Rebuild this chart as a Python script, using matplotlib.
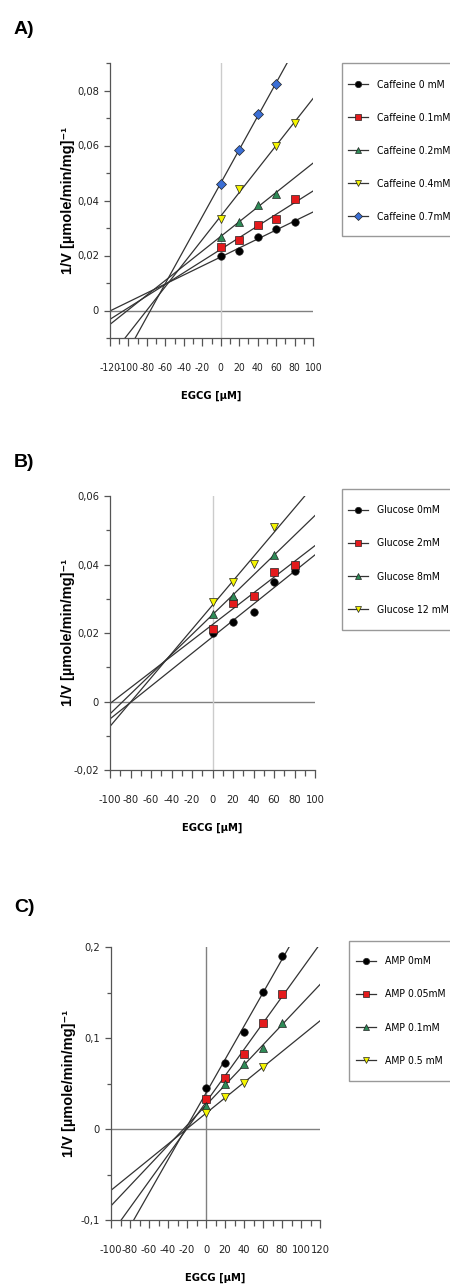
import numpy as np
import matplotlib
matplotlib.use('Agg')
import matplotlib.pyplot as plt
from matplotlib import font_manager as fm
from matplotlib.lines import Line2D
from matplotlib.patches import Rectangle
from matplotlib.ticker import MultipleLocator, FuncFormatter

# Panel A: caffeine
caf_labels = ['Caffeine 0 mM', 'Caffeine 0.1mM', 'Caffeine 0.2mM', 'Caffeine 0.4mM', 'Caffeine 0.7mM']
caf_x = [[0, 20, 40, 60, 80],
         [0, 20, 40, 60, 80],
         [0, 20, 40, 60],
         [0, 20, 60, 80],
         [0, 20, 40, 60]]
caf_y = [[0.0197, 0.0218, 0.0267, 0.0297, 0.0321],
         [0.0231, 0.0256, 0.0312, 0.0332, 0.0405],
         [0.0266, 0.0323, 0.0385, 0.0423],
         [0.0334, 0.0441, 0.0600, 0.0682],
         [0.0461, 0.0584, 0.0713, 0.0823]]

# Panel B: glucose
glu_labels = ['Glucose 0mM', 'Glucose 2mM', 'Glucose 8mM', 'Glucose 12 mM']
glu_x = [[0, 20, 40, 60, 80],
         [0, 20, 40, 60, 80],
         [0, 20, 60],
         [0, 20, 40, 60]]
glu_y = [[0.0200, 0.0231, 0.0261, 0.0350, 0.0380],
         [0.0212, 0.0289, 0.0307, 0.0378, 0.0398],
         [0.0255, 0.0309, 0.0428],
         [0.0290, 0.0350, 0.0401, 0.0509]]

# Panel C: AMP
amp_labels = ['AMP 0mM', 'AMP 0.05mM', 'AMP 0.1mM', 'AMP 0.5 mM']
amp_x = [[0, 20, 40, 60, 80],
         [0, 20, 40, 60, 80],
         [0, 20, 40, 60, 80],
         [0, 20, 40, 60]]
amp_y = [[0.0454, 0.0722, 0.1070, 0.1505, 0.1897],
         [0.0333, 0.0564, 0.0828, 0.1161, 0.1484],
         [0.0253, 0.0495, 0.0718, 0.0890, 0.1161],
         [0.0172, 0.0348, 0.0502, 0.0685]]

styles = [('o', 'black'), ('s', '#e41a1c'), ('^', '#2e8b57'), ('v', '#f5f500'), ('D', '#3b6fd6')]

# pick a narrow font if one is installed, otherwise a small Arial-like one
installed = fm.fontManager.ttflist
names = {f.name for f in installed}
dv_cond = any(f.name == 'DejaVu Sans' and 'condensed' in str(f.stretch) for f in installed)
if 'Liberation Sans Narrow' in names:
    narrow = dict(family=['Liberation Sans Narrow', 'DejaVu Sans'], stretch='normal')
    tick_size, leg_size, xtick_a = 9.5, 9.5, 9.5
elif dv_cond:
    narrow = dict(family=['DejaVu Sans'], stretch='condensed')
    tick_size, leg_size, xtick_a = 8, 7.5, 7.5
else:
    narrow = dict(family=['Liberation Sans', 'DejaVu Sans'], stretch='normal')
    tick_size, leg_size, xtick_a = 7, 6.5, 6.6
bold_font = ['Liberation Sans', 'DejaVu Sans']

W, H = 450, 1287
fig = plt.figure(figsize=(W / 100, H / 100), dpi=100)


def fmt(v, pos):
    if abs(v) < 1e-12:
        return '0'
    return f'{v:g}'.replace('.', ',')


def panel(box, letter, letter_y, xs, ys, labels, xlim, ylim, ymajor, yminor, vcol, frame,
          leg_x, leg_y0, xsize):
    l, t, r, b = box
    ax = fig.add_axes([l / W, 1 - b / H, (r - l) / W, (b - t) / H])
    ax.set_xlim(xlim)
    ax.set_ylim(ylim)
    ax.axhline(0, color='#808080', lw=1.0, zorder=1)
    ax.axvline(0, color=vcol, lw=1.0, zorder=1)
    handles = []
    xx = np.array(xlim, dtype=float)
    for i, (x, y) in enumerate(zip(xs, ys)):
        m, c = styles[i]
        k, d = np.polyfit(x, y, 1)
        ax.plot(xx, k * xx + d, color='#333333', lw=0.9, zorder=2)
        ax.plot(x, y, linestyle='none', marker=m, markersize=5.4 if m != 'D' else 4.8,
                markerfacecolor=c, markeredgecolor='#222222', markeredgewidth=0.5, zorder=3)
        handles.append(Line2D([], [], color='#333333', lw=0.9, marker=m,
                              markersize=4.6 if m != 'D' else 4, markerfacecolor=c,
                              markeredgecolor='#222222', markeredgewidth=0.5))
    for s in ['top', 'right']:
        ax.spines[s].set_visible(False)
    for s in ['left', 'bottom']:
        ax.spines[s].set_color('#555555')
        ax.spines[s].set_linewidth(0.9)
    ax.xaxis.set_major_locator(MultipleLocator(20))
    ax.xaxis.set_minor_locator(MultipleLocator(10))
    ax.yaxis.set_major_locator(MultipleLocator(ymajor))
    ax.yaxis.set_minor_locator(MultipleLocator(yminor))
    ax.xaxis.set_major_formatter(FuncFormatter(fmt))
    ax.yaxis.set_major_formatter(FuncFormatter(fmt))
    ax.tick_params(axis='x', which='major', length=6, width=0.9, color='#555555', pad=12)
    ax.tick_params(axis='x', which='minor', length=4, width=0.9, color='#555555')
    ax.tick_params(axis='y', which='major', length=4.5, width=0.9, color='#555555', pad=3.5)
    ax.tick_params(axis='y', which='minor', length=3, width=0.9, color='#555555')
    for lab in ax.get_xticklabels() + ax.get_yticklabels():
        lab.set_fontfamily(narrow['family'])
        lab.set_fontstretch(narrow['stretch'])
        lab.set_fontsize(tick_size)
        lab.set_color('#222222')
    for lab in ax.get_xticklabels():
        lab.set_fontsize(xsize)
    ax.set_xlabel('EGCG [µM]', fontfamily=narrow['family'], fontstretch=narrow['stretch'],
                  fontweight='bold', fontsize=tick_size)
    ax.set_ylabel('1/V [µmole/min/mg]⁻¹', fontfamily=bold_font, fontweight='bold', fontsize=10.5)
    ax.xaxis.set_label_coords(0.5, -(53 / (b - t)))
    ax.yaxis.set_label_coords(-(35 / (r - l)), 0.5)
    fig.text(14 / W, 1 - letter_y / H, letter, fontfamily=bold_font, fontweight='bold',
             fontsize=14, va='center', ha='left')
    # legend frame, drawn by hand so the padding can match
    fx0, fy0, fx1, fy1 = frame
    fig.patches.append(Rectangle((fx0 / W, 1 - fy1 / H), (fx1 - fx0) / W, (fy1 - fy0) / H,
                                 transform=fig.transFigure, fill=True, facecolor='white',
                                 edgecolor='#999999', lw=1.0, zorder=0))
    fig.legend(handles, labels, loc='center left',
               bbox_to_anchor=(leg_x / W, 1 - leg_y0 / H),
               bbox_transform=fig.transFigure, borderaxespad=0, borderpad=0,
               prop={'family': narrow['family'], 'stretch': narrow['stretch'], 'size': leg_size},
               frameon=False, handlelength=14.4 / leg_size, handletextpad=6.2 / leg_size,
               labelspacing=16.6 / leg_size, handleheight=0.7)
    return ax


panel((110, 63, 313, 338), 'A)', 30, caf_x, caf_y, caf_labels, (-120, 100), (-0.01, 0.09),
      0.02, 0.01, '#cccccc', (342, 63, 455, 236), 348, 151, xtick_a)
panel((110, 496, 315, 770), 'B)', 462, glu_x, glu_y, glu_labels, (-100, 100), (-0.02, 0.06),
      0.02, 0.01, '#cccccc', (342, 489, 455, 630), 348, 560, tick_size)
panel((111, 947, 320, 1220), 'C)', 907, amp_x, amp_y, amp_labels, (-100, 120), (-0.1, 0.2),
      0.1, 0.05, '#808080', (349, 941, 455, 1081), 356, 1011, tick_size)

fig.savefig('out.png', dpi=100)
